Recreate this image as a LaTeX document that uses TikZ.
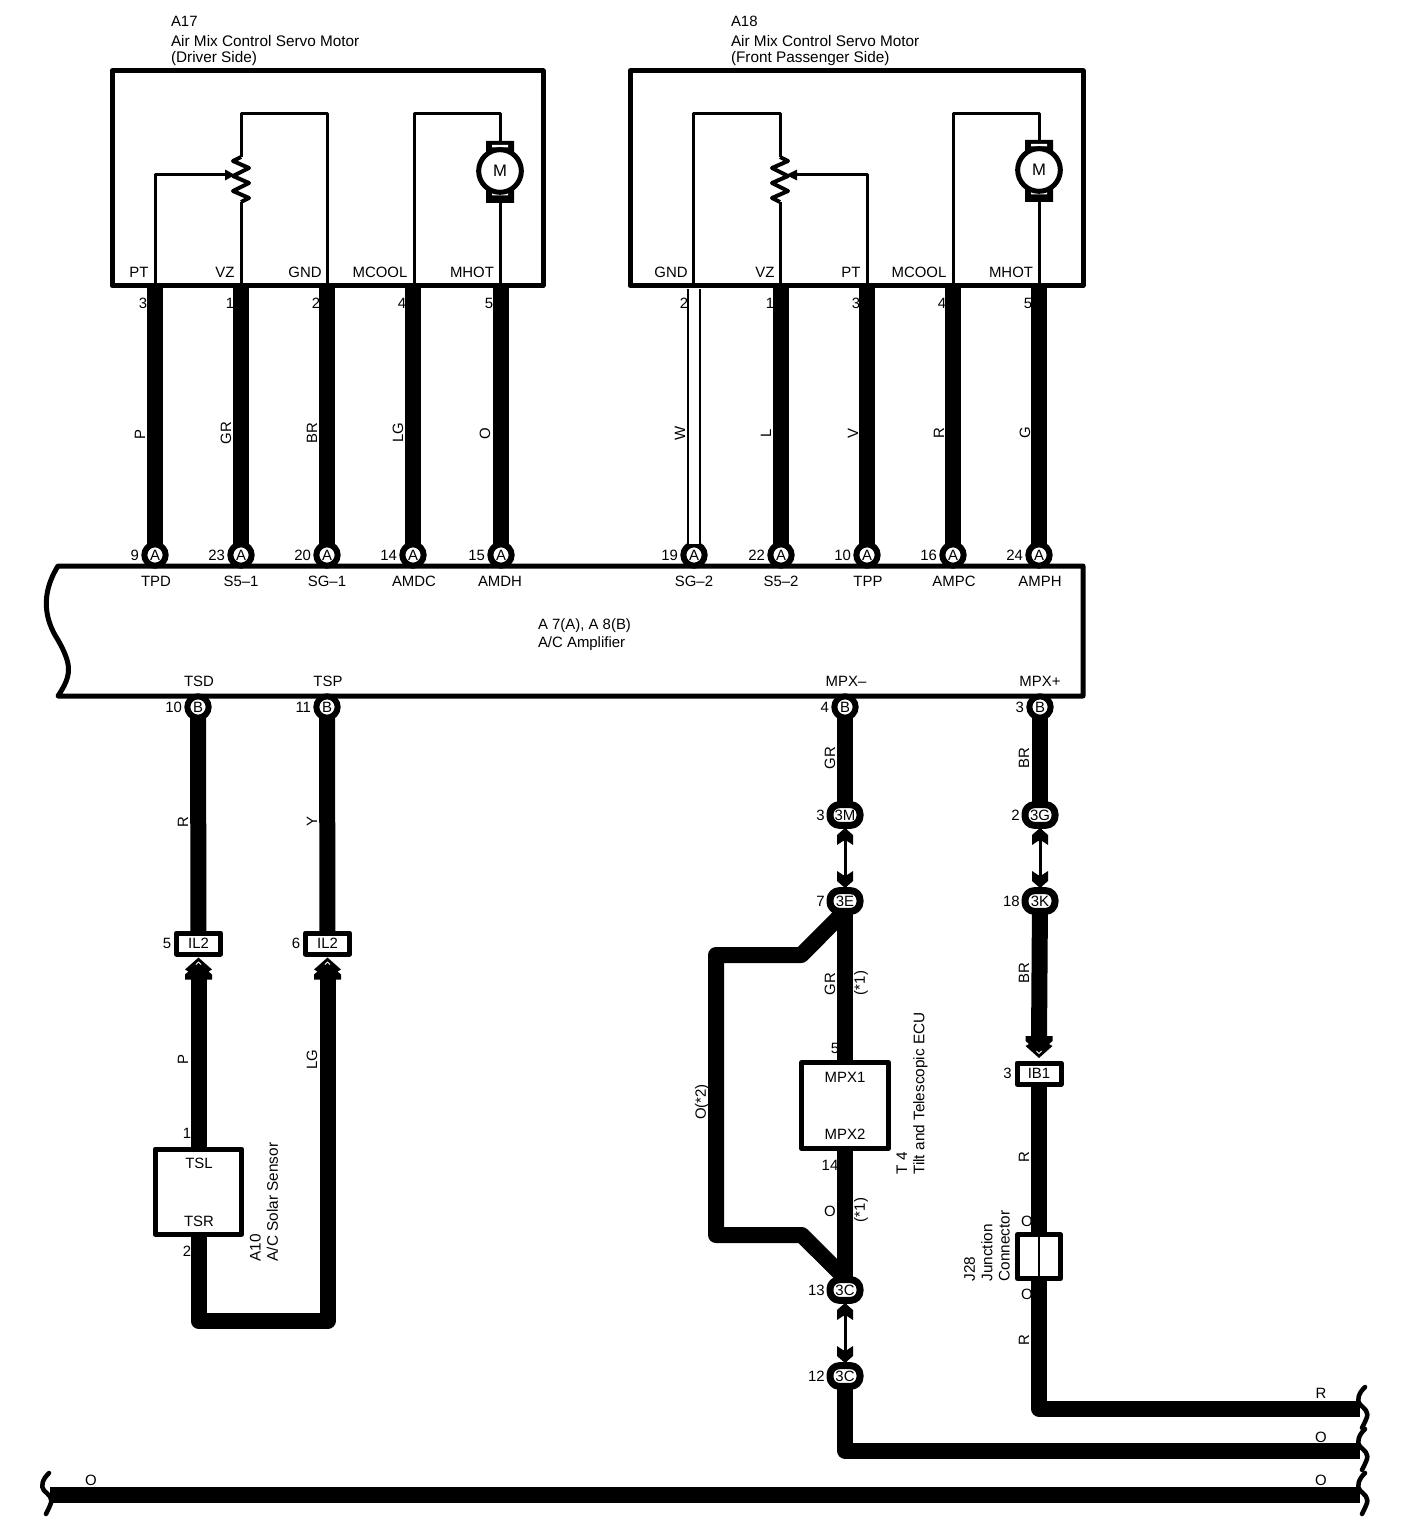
\documentclass[tikz,border=0pt]{standalone}
\usepackage{fontspec}
\setmainfont{Liberation Sans}
\usetikzlibrary{positioning}
\tikzset{
  chevs/.pic={\fill (0,0) -- (13.5,12) -- (10,14) -- (13.5,17) -- (13.5,22) -- (8,22) -- (-8,22) -- (-13.5,22) -- (-13.5,17) -- (-10,14) -- (-13.5,12) -- cycle;
    \draw[white,line width=.7pt] (-2.5,7) -- (0,4.5) -- (2.5,7);},
  tip/.pic={\fill (0,0) -- (8,7) -- (8,17) -- (2,13) -- (-2,13) -- (-8,17) -- (-8,7) -- cycle;},
  brk/.pic={\draw[line width=3.4pt,line cap=round] (3,-21.5) .. controls (-3,-16) and (-6,-8) .. (-2,-4) .. controls (2,0) and (8,3) .. (4,11) .. controls (3,14) and (1,17) .. (0,19.5);}
}
\begin{document}
\begin{tikzpicture}[x=.75pt,y=-.75pt,line join=round,
  every node/.style={inner sep=0pt,outer sep=0pt,font=\fontsize{11.2}{12}\selectfont},
  boxline/.style={line width=3.75pt},
  comp/.style={draw,line width=3.75pt,minimum width=65pt,minimum height=64pt},
  pin/.style={draw,circle,fill=white,line width=4.5pt,minimum size=16pt},
  oval/.style={draw,fill=white,rounded corners=7pt,line width=5.25pt,minimum width=22.5pt,minimum height=15.5pt},
  conn/.style={draw,fill=white,line width=3.75pt,minimum width=33pt,minimum height=15.75pt},
  motor/.style={draw,circle,fill=white,line width=3.75pt,minimum size=32pt,font=\fontsize{12.5}{13}\selectfont},
  inwire/.style={line width=2.25pt},
  zig/.style={line width=3pt},
  wire/.style={line width=12pt},
  vert/.style={rotate=90},
  title/.style={rotate=90,align=left,font=\fontsize{11.5}{12}\selectfont},
  thinarrow/.style={line width=2.25pt}]
  \useasboundingbox (0,0) rectangle (1408,1540);
  % titles
  \path (171,16) node[anchor=north west,align=left] (t17) {A17\\[3pt]\fontsize{11.5}{12}\selectfont Air Mix Control Servo Motor\\\fontsize{11.5}{12}\selectfont (Driver Side)}
  (731,16) node[anchor=north west,align=left] (t18) {A18\\[3pt]\fontsize{11.5}{12}\selectfont Air Mix Control Servo Motor\\\fontsize{11.5}{12}\selectfont (Front Passenger Side)}
  (538,635) node[anchor=west,align=left] (tamp) {A 7(A), A 8(B)\\[1.5pt]A/C Amplifier}
  (264,1202) node[title] (t10) {A10\\[1pt]A/C Solar Sensor}
  (912,1093.5) node[title] (t4) {T 4\\[1pt]Tilt and Telescopic ECU}
  (987,1246) node[title] (t28) {J28\\[1pt]Junction\\[1pt]Connector};
  % component boxes
  \path (327.5,178.25) node[comp,minimum width=323.25pt,minimum height=160.9pt] (a17) {}
  (856.5,178.25) node[comp,minimum width=339.75pt,minimum height=160.9pt] (a18) {}
  (198.5,1191.5) node[comp,minimum height=63.75pt] (a10) {}
  (845,1105.5) node[comp,minimum height=64.5pt] (t4box) {}
  (1039,1256.5) node[comp,minimum width=32.25pt,minimum height=33pt] (j28) {};
  \draw[line width=1.5pt] (j28.north) -- (j28.south);
  \draw[boxline] (58,566) -- (1083,566) -- (1083,696) -- (58,696) .. controls (72,675) and (72,665) .. (58,640) .. controls (45,620) and (40,595) .. cycle;
  % terminal names
  \path (139,272) node (n1) {PT} (225,272) node (n2) {VZ} (305,272) node (n3) {GND} (380,272) node (n4) {MCOOL} (472,272) node (n5) {MHOT}
  (671,272) node (n6) {GND} (765,272) node (n7) {VZ} (851,272) node (n8) {PT} (919,272) node (n9) {MCOOL} (1011,272) node (n10) {MHOT}
  (156,581) node (n11) {TPD} (241,581) node (n12) {S5--1} (327,581) node (n13) {SG--1} (414,581) node (n14) {AMDC} (500,581) node (n15) {AMDH}
  (694,581) node (n16) {SG--2} (781,581) node (n17) {S5--2} (868,581) node (n18) {TPP} (954,581) node (n19) {AMPC} (1040,581) node (n20) {AMPH}
  (199,681) node (n21) {TSD} (328,681) node (n22) {TSP} (846,681) node (n23) {MPX--} (1040,681) node (n24) {MPX+}
  (199,1163) node (n25) {TSL} (199,1221) node (n26) {TSR} (845,1077) node (n27) {MPX1} (845,1134) node (n28) {MPX2};
  % pin numbers under the motor boxes
  \path (143,303) node (w1) {3} (230,303) node (w2) {1} (316,303) node (w3) {2} (402,303) node (w4) {4} (489,303) node (w5) {5}
  (684,303) node (w6) {2} (770,303) node (w7) {1} (856,303) node (w8) {3} (942,303) node (w9) {4} (1028,303) node (w10) {5}
  (187,1133) node (w11) {1} (187,1251) node (w12) {2} (835,1048) node (w13) {5} (830,1165) node (w14) {14};
  % wire colours
  \path (140,435) node[vert] (c1) {P} (226,433) node[vert] (c2) {GR} (312,433) node[vert] (c3) {BR} (398,433) node[vert] (c4) {LG} (485,434) node[vert] (c5) {O}
  (680,433) node[vert] (c6) {W} (766,433) node[vert] (c7) {L} (853,434) node[vert] (c8) {V} (939,433) node[vert] (c9) {R} (1025,433) node[vert] (c10) {G}
  (183,822) node[vert] (c11) {R} (312,822) node[vert] (c12) {Y} (830,758) node[vert] (c13) {GR} (1024,758) node[vert] (c14) {BR}
  (183,1060) node[vert] (c15) {P} (312,1060) node[vert] (c16) {LG} (830,984) node[vert] (c17) {GR} (861,983) node[vert] (c18) {(*1)}
  (1024,973) node[vert] (c19) {BR} (702,1102) node[vert] (c20) {O(*2)} (830,1211) node (c21) {O} (861,1210) node[vert] (c22) {(*1)}
  (1024,1157) node[vert] (c23) {R} (1027,1221) node (c24) {O} (1027,1294) node (c25) {O} (1024,1340) node[vert] (c26) {R}
  (1321,1393) node (c27) {R} (1321,1437) node (c28) {O} (1321,1480) node (c29) {O} (91,1480) node (c30) {O};
  % amplifier pins
  \path (155,555) node[pin] (p9) {A} (241,555) node[pin] (p23) {A} (327,555) node[pin] (p20) {A} (413,555) node[pin] (p14) {A} (501,555) node[pin] (p15) {A}
  (694,555) node[pin] (p19) {A} (781,555) node[pin] (p22) {A} (867,555) node[pin] (p10) {A} (953,555) node[pin] (p16) {A} (1039,555) node[pin] (p24) {A}
  (198,707) node[pin] (q10) {B} (327,707) node[pin] (q11) {B} (845,707) node[pin] (q4) {B} (1040,707) node[pin] (q3) {B};
  \path node[left=4pt of p9] {9} node[left=4pt of p23] {23} node[left=4pt of p20] {20} node[left=4pt of p14] {14} node[left=4pt of p15] {15}
  node[left=4pt of p19] {19} node[left=4pt of p22] {22} node[left=4pt of p10] {10} node[left=4pt of p16] {16} node[left=4pt of p24] {24}
  node[left=4pt of q10] {10} node[left=4pt of q11] {11} node[left=4pt of q4] {4} node[left=4pt of q3] {3};
  % oval connectors
  \path (845,815) node[oval] (m3) {3M} (845,901) node[oval] (e3) {3E} (1040,815) node[oval] (g3) {3G} (1040,901) node[oval] (k3) {3K}
  (845,1290) node[oval] (c3a) {3C} (845,1376) node[oval] (c3b) {3C};
  \path node[left=4pt of m3] {3} node[left=4pt of e3] {7} node[left=4pt of g3] {2} node[left=4pt of k3] {18}
  node[left=4pt of c3a] {13} node[left=4pt of c3b] {12};
  % square connectors
  \path (198.5,943.5) node[conn] (il1) {IL2} (327.5,943.5) node[conn] (il2) {IL2} (1039,1073.5) node[conn] (ib1) {IB1};
  \path node[left=4pt of il1] {5} node[left=4pt of il2] {6} node[left=4pt of ib1] {3};
  % free ends
  \path (155,114) coordinate (r0) (241,114) coordinate (r1) (327,114) coordinate (r2) (414,114) coordinate (r3) (500,114) coordinate (r4)
  (693,114) coordinate (r5) (780,114) coordinate (r6) (953,114) coordinate (r7) (1039,114) coordinate (r8)
  (155,175) coordinate (s1) (867,175) coordinate (s2)
  (198.5,975) coordinate (u1) (327.5,975) coordinate (u2) (1039,1040) coordinate (u3)
  (198.5,1321) coordinate (d1) (327.5,1321) coordinate (d2)
  (842,914) coordinate (v0) (801.3,955) coordinate (v1) (716,955) coordinate (v2) (716,1235) coordinate (v3) (801.7,1235) coordinate (v4) (842,1275) coordinate (v5)
  (845,1450.5) coordinate (h1) (1360,1450.5) coordinate (h2) (1039,1408.5) coordinate (h3) (1360,1408.5) coordinate (h4)
  (50,1494.5) coordinate (h5) (1360,1494.5) coordinate (h6);
  % motor box, driver side
  \draw[inwire] (a17.south -| r0) |- (s1) -- (226,175);
  \fill (235,175) -- (225,169.5) -- (225,180.5) -- cycle;
  \draw[inwire] (a17.south -| r1) -- (241,202);
  \draw[zig] (241,202) -- (249,198) -- (233,191) -- (249,183) -- (233,176) -- (249,168) -- (233,161) -- (241,157);
  \draw[inwire] (241,157) -- (r1) -- (r2) -- (a17.south -| r2);
  \fill (486,141) rectangle (514,157) (486,187) rectangle (514,203);
  \fill[white] (492,145) rectangle (508,147.5) (492,193) rectangle (508,195.5);
  \path (500,171) node[motor] (m1) {M};
  \draw[inwire] (a17.south -| r3) -- (r3) -- (r4) -- (500,141);
  \draw[inwire] (500,203) -- (a17.south -| r4);
  % motor box, passenger side
  \draw[inwire] (a18.south -| r5) -- (r5) -- (r6) -- (780,157);
  \draw[zig] (780,157) -- (788,161) -- (772,168) -- (788,176) -- (772,183) -- (788,191) -- (772,198) -- (780,202);
  \draw[inwire] (780,202) -- (a18.south -| r6);
  \draw[inwire] (a18.south -| s2) |- (797,175);
  \fill (786,175) -- (797,169.5) -- (797,180.5) -- cycle;
  \fill (1025,140) rectangle (1053,156) (1025,186) rectangle (1053,202);
  \fill[white] (1031,144) rectangle (1047,146.5) (1031,192) rectangle (1047,194.5);
  \path (1039,170) node[motor] (m2) {M};
  \draw[inwire] (a18.south -| r7) -- (r7) -- (r8) -- (1039,140);
  \draw[inwire] (1039,202) -- (a18.south -| r8);
  % upper wires
  \draw[wire] (p9) -- (p9 |- a17.south);
  \draw[wire] (p23) -- (p23 |- a17.south);
  \draw[wire] (p20) -- (p20 |- a17.south);
  \draw[wire] (p14) -- (p14 |- a17.south);
  \draw[wire] (p15) -- (p15 |- a17.south);
  \draw[double,line width=1.9pt,double distance=7pt,shorten >=2.5pt] (p19) -- (p19 |- a18.south);
  \draw[wire] (p22) -- (p22 |- a18.south);
  \draw[wire] (p10) -- (p10 |- a18.south);
  \draw[wire] (p16) -- (p16 |- a18.south);
  \draw[wire] (p24) -- (p24 |- a18.south);
  % lower wires
  \draw[wire] (q10) -- (il1);
  \draw[wire] (q11) -- (il2);
  \draw[wire] (u1) -- (a10);
  \draw[wire] (a10) -- (d1) -- (d2) -- (u2);
  \pic at (198.5,957.5) {chevs};
  \pic at (327.5,957.5) {chevs};
  \draw[wire] (q4) -- (m3);
  \draw[wire] (q3) -- (g3);
  \draw[thinarrow] (m3) -- (e3);
  \pic at (845,828) {tip};
  \pic[rotate=180] at (845,888) {tip};
  \draw[thinarrow] (g3) -- (k3);
  \pic at (1040,828) {tip};
  \pic[rotate=180] at (1040,888) {tip};
  \draw[wire] (e3) -- (t4box);
  \draw[wire] (t4box) -- (c3a);
  \draw[wire] (v0) -- (v1) -- (v2) -- (v3) -- (v4) -- (v5);
  \draw[thinarrow] (c3a) -- (c3b);
  \pic at (845,1303) {tip};
  \pic[rotate=180] at (845,1363) {tip};
  \draw[wire] (c3b) |- (h2);
  \draw[wire] (k3) -- (u3);
  \pic[rotate=180] at (1039,1058) {chevs};
  \draw[wire] (ib1) -- (j28);
  \draw[wire] (j28) |- (h4);
  \draw[wire] (h5) -- (h6);
  \pic at (1362,1408.5) {brk};
  \pic at (1362,1450.5) {brk};
  \pic at (1362,1494.5) {brk};
  \pic at (46,1494.5) {brk};
\end{tikzpicture}
\end{document}
